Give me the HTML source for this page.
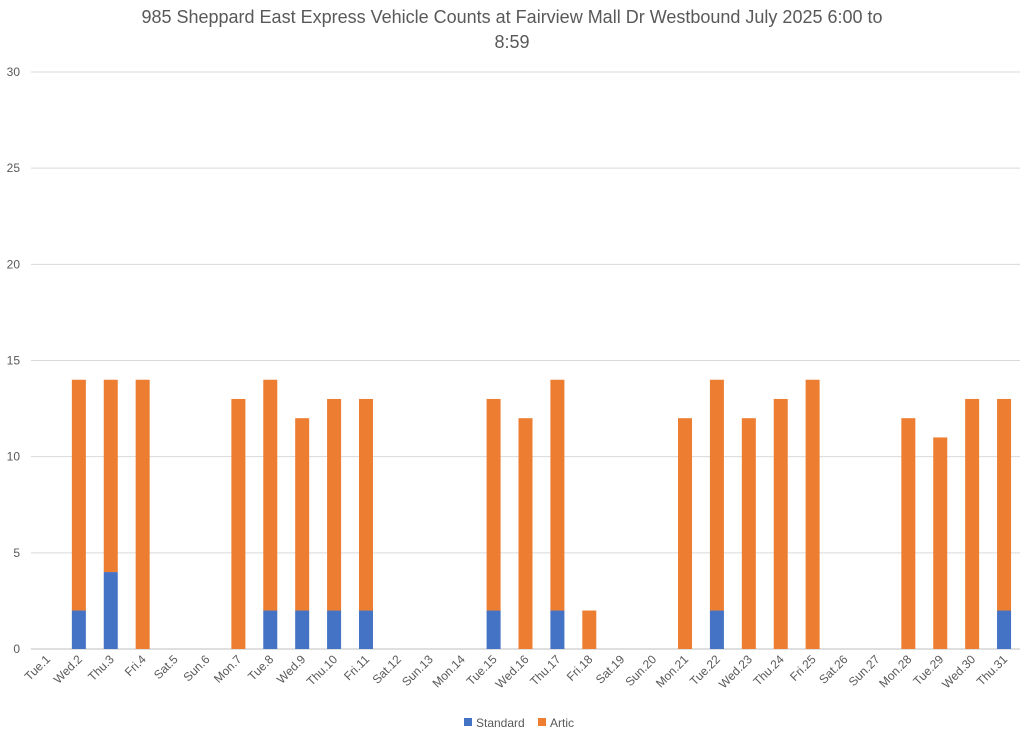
<!DOCTYPE html>
<html><head><meta charset="utf-8"><style>
body{margin:0;background:#fff;font-family:"Liberation Sans",sans-serif;}
svg text{font-family:"Liberation Sans",sans-serif;fill:#595959;}
</style></head><body>
<svg id="chart" width="1024" height="739">
<text x="512" y="23" font-size="18" text-anchor="middle">985 Sheppard East Express Vehicle Counts at Fairview Mall Dr Westbound July 2025  6:00 to</text>
<text x="512" y="48" font-size="18" text-anchor="middle">8:59</text>
<g id="grid"></g><g id="bars"></g><g id="xlabels"></g>
<g>
<rect x="464" y="718" width="8" height="8" fill="#4472C4"/>
<text x="476" y="727" font-size="12">Standard</text>
<rect x="538" y="718" width="8" height="8" fill="#ED7D31"/>
<text x="550" y="727" font-size="12">Artic</text>
</g>
</svg>
<script>
const categories=["Tue.1","Wed.2","Thu.3","Fri.4","Sat.5","Sun.6","Mon.7","Tue.8","Wed.9","Thu.10","Fri.11","Sat.12","Sun.13","Mon.14","Tue.15","Wed.16","Thu.17","Fri.18","Sat.19","Sun.20","Mon.21","Tue.22","Wed.23","Thu.24","Fri.25","Sat.26","Sun.27","Mon.28","Tue.29","Wed.30","Thu.31"];
const standard=[0,2,4,0,0,0,0,2,2,2,2,0,0,0,2,0,2,0,0,0,0,2,0,0,0,0,0,0,0,0,2];
const artic=[0,12,10,14,0,0,13,12,10,11,11,0,0,0,11,12,12,2,0,0,12,12,12,13,14,0,0,12,11,13,11];
const yTicks=[0,5,10,15,20,25,30];
const NS="http://www.w3.org/2000/svg";
const L=31,R=1020,Y0=649,Y1=72,YMAX=30;
const y=v=>Y0-(v/YMAX)*(Y0-Y1);
const step=(R-L)/categories.length;
const xc=i=>L+step*(i+0.5);
const bw=14;
function mk(t,a,p){const e=document.createElementNS(NS,t);for(const k in a)e.setAttribute(k,a[k]);p.appendChild(e);return e;}
const grid=document.getElementById('grid'),bars=document.getElementById('bars'),xl=document.getElementById('xlabels');
yTicks.forEach(t=>{
 const l=mk('line',{x1:L,x2:R,y1:y(t),y2:y(t),stroke:t===0?'#bfbfbf':'#d9d9d9','stroke-width':1},grid);
 
 
 const tx=mk('text',{x:20,y:y(t)+4,'font-size':12,'text-anchor':'end'},grid);
 tx.textContent=t;
 
 
});
categories.forEach((c,i)=>{
 const s=standard[i],a=artic[i];
 if(s>0){const r=mk('rect',{x:xc(i)-bw/2,y:y(s),width:bw,height:y(0)-y(s),fill:'#4472C4'},bars);
  
  }
 if(a>0){const r=mk('rect',{x:xc(i)-bw/2,y:y(s+a),width:bw,height:y(s)-y(s+a),fill:'#ED7D31'},bars);
  
  }
 const tx=mk('text',{x:xc(i)+4,y:660,'font-size':12,'text-anchor':'end',transform:`rotate(-45 ${xc(i)+4} 660)`},xl);
 tx.textContent=c;
 
 
});
</script>
</body></html>
